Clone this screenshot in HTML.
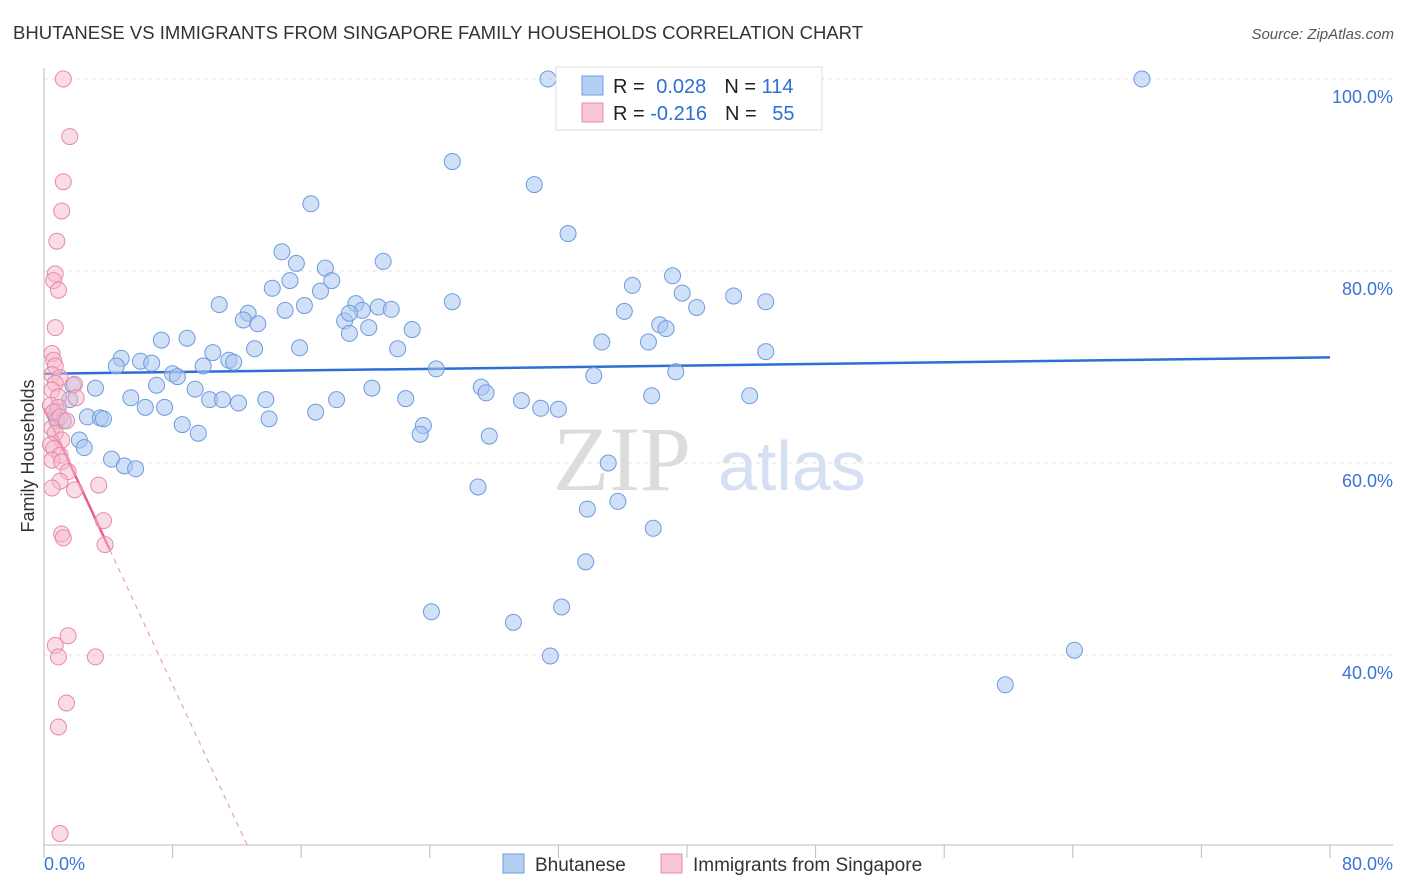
<!DOCTYPE html>
<html><head><meta charset="utf-8"><style>
body{margin:0;background:#fff;font-family:"Liberation Sans",sans-serif;}
</style></head><body>
<svg id="chart" width="1406" height="892" xmlns="http://www.w3.org/2000/svg" style="display:block;font-family:'Liberation Sans',sans-serif">
<text x="13" y="39" font-size="18" fill="#333" textLength="850" lengthAdjust="spacingAndGlyphs">BHUTANESE VS IMMIGRANTS FROM SINGAPORE FAMILY HOUSEHOLDS CORRELATION CHART</text>
<text x="1394" y="39" font-size="15" fill="#555" font-style="italic" text-anchor="end">Source: ZipAtlas.com</text>
<g>
<text x="553" y="490" font-size="92" fill="#dcdcdc" font-family="'Liberation Serif',serif">ZIP</text>
<text x="718" y="490" font-size="70" fill="#d5e0f2">atlas</text>
</g>
<g id="grid"></g>
<g id="axes"></g>
<g id="trend"></g>
<g id="pts"></g>
<text transform="translate(34,456) rotate(-90)" font-size="18" fill="#333" text-anchor="middle">Family Households</text>
<g>
<rect x="556" y="67" width="266" height="63" fill="#fff" stroke="#ddd"/>
<rect x="582" y="76" width="21" height="19" fill="#b5cff3" stroke="#6f9be0"/>
<rect x="582" y="103" width="21" height="19" fill="#f9c6d5" stroke="#e88aa8"/>
<text x="613" y="93" font-size="20" fill="#222">R = <tspan dx="6" fill="#2d6fd6">0.028</tspan><tspan dx="18">N = </tspan><tspan fill="#2d6fd6">114</tspan></text>
<text x="613" y="120" font-size="20" fill="#222">R = <tspan fill="#2d6fd6">-0.216</tspan><tspan dx="18">N = </tspan><tspan dx="10" fill="#2d6fd6">55</tspan></text>
</g>
<g>
<rect x="503" y="854" width="21" height="19" fill="#b5cff3" stroke="#6f9be0"/>
<text x="535" y="871" font-size="19" fill="#333">Bhutanese</text>
<rect x="661" y="854" width="21" height="19" fill="#f9c6d5" stroke="#e88aa8"/>
<text x="693" y="871" font-size="19" fill="#333">Immigrants from Singapore</text>
</g>
</svg>
<script>
const blueX=[31.35,43.1,68.3,25.4,30.5,16.6,32.6,14.8,21.1,15.7,17.5,17.9,15.3,14.2,17.2,36.6,39.1,39.7,42.9,44.9,10.9,16.2,15.0,12.7,19.4,20.8,21.6,19.8,25.4,36.1,40.6,18.7,19.0,12.4,13.3,20.2,19.0,22.9,38.3,38.7,8.9,7.3,34.7,37.6,13.1,15.9,22.0,10.5,44.9,4.8,6.0,4.5,6.7,11.5,11.8,9.9,24.4,34.2,39.3,8.0,8.3,7.0,3.2,1.8,9.4,20.4,27.2,27.5,10.3,5.4,11.1,12.1,13.8,18.2,22.5,29.7,30.9,32.0,37.8,43.9,1.6,6.3,7.5,0.8,16.9,2.7,3.5,3.7,14.0,0.8,1.2,8.6,23.6,9.6,23.4,27.7,2.2,2.5,4.2,5.0,5.7,35.1,27.0,35.7,33.8,37.9,33.7,32.2,24.1,29.2,64.1,31.5,59.8];
const blueY=[100,100,100,91.4,89.0,87.0,83.9,82.0,81.0,80.8,80.3,79.0,79.0,78.2,77.9,78.5,79.5,77.7,77.4,76.8,76.5,76.4,75.9,75.6,76.6,76.25,76.0,75.9,76.8,75.8,76.2,74.8,75.6,74.9,74.5,74.1,73.5,73.9,74.4,74.0,73.0,72.8,72.6,72.6,71.9,72.0,71.9,71.5,71.6,70.9,70.6,70.1,70.4,70.7,70.5,70.1,69.8,69.1,69.5,69.3,69.0,68.1,67.8,68.1,67.7,67.8,67.9,67.3,66.6,66.8,66.6,66.25,66.6,66.6,66.7,66.5,65.7,65.6,67.0,67.0,66.6,65.8,65.8,65.4,65.3,64.8,64.7,64.6,64.6,64.4,64.4,64.0,63.9,63.1,63.0,62.8,62.4,61.6,60.4,59.7,59.4,60.0,57.5,56.0,55.2,53.2,49.7,45.0,44.5,43.4,40.5,39.9,36.9];
const pinkX=[1.2,1.6,1.2,1.1,0.8,0.7,0.6,0.9,0.7,0.5,0.6,0.7,0.5,1.0,0.7,1.9,0.5,0.9,2.0,0.4,0.9,0.6,1.0,1.4,0.5,0.7,1.1,0.4,0.6,1.0,0.5,1.1,1.5,1.0,3.4,0.5,1.9,3.7,1.1,1.2,3.8,1.5,0.7,3.2,0.9,1.4,0.9,1.0];
const pinkY=[100,94.0,89.3,86.25,83.1,79.7,79.0,78.0,74.1,71.4,70.7,70.1,69.2,68.9,68.3,68.2,67.6,66.9,66.8,66.0,65.8,65.3,64.8,64.4,63.65,63.1,62.4,61.9,61.5,60.8,60.3,60.1,59.1,58.1,57.7,57.4,57.2,54.0,52.6,52.2,51.5,42.0,41.0,39.8,39.8,35.0,32.5,21.4];
const blueTrend=[69.3,71.0];
const pinkTrend=[65.7,-3.6];
const pinkSolidEnd=4.1;
const yTicks=[100,80,60,40];
const xTickLabels=["0.0%","80.0%"];

const NS="http://www.w3.org/2000/svg";
const X0=44,X1=1330,Y100=79,PXPER=9.6,BOTTOM=845;
const sx=v=>X0+(v/80)*(X1-X0);
const sy=v=>Y100+(100-v)*PXPER;
function mk(tag,attrs,parent){const e=document.createElementNS(NS,tag);for(const k in attrs)e.setAttribute(k,attrs[k]);parent.appendChild(e);return e;}
const grid=document.getElementById('grid'),axes=document.getElementById('axes'),trend=document.getElementById('trend'),pts=document.getElementById('pts');
yTicks.forEach(t=>{
  const l=mk('line',{x1:X0,x2:1393,y1:sy(t),y2:sy(t),stroke:'#e0e0e0','stroke-dasharray':'4,4'},grid);
  
  
  const tx=mk('text',{x:1393,y:sy(t)+24,'font-size':18,fill:'#3a74d6','text-anchor':'end'},axes);
  tx.textContent=t.toFixed(1)+'%';
  
  
});
const va=mk('line',{x1:X0,x2:X0,y1:68,y2:BOTTOM,stroke:'#bbb'},axes);


const ha=mk('line',{x1:X0,x2:1393,y1:BOTTOM,y2:BOTTOM,stroke:'#bbb'},axes);


for(let i=0;i<=10;i++){
  const v=i*8;
  const t=mk('line',{x1:sx(v),x2:sx(v),y1:BOTTOM,y2:BOTTOM+13,stroke:'#bbb'},axes);
  
  
}
const xl0=mk('text',{x:44,y:870,'font-size':18,fill:'#3a74d6'},axes);xl0.textContent=xTickLabels[0];


const xl1=mk('text',{x:1393,y:870,'font-size':18,fill:'#3a74d6','text-anchor':'end'},axes);xl1.textContent=xTickLabels[1];



blueX.forEach((x,i)=>{
  const c=mk('circle',{cx:sx(x),cy:sy(blueY[i]),r:8,fill:'#a9c6ef','fill-opacity':0.55,stroke:'#6f9be0','stroke-width':1},pts);
  
  
});
pinkX.forEach((x,i)=>{
  const c=mk('circle',{cx:sx(x),cy:sy(pinkY[i]),r:8,fill:'#f5b9cb','fill-opacity':0.5,stroke:'#e88aa8','stroke-width':1},pts);
  
  
});
const bl=mk('line',{x1:sx(0),y1:sy(blueTrend[0]),x2:sx(80),y2:sy(blueTrend[1]),stroke:'#2d6fd6','stroke-width':2.5},trend);


const pf=x=>pinkTrend[0]+pinkTrend[1]*x;
const ps=mk('line',{x1:sx(0),y1:sy(pf(0)),x2:sx(pinkSolidEnd),y2:sy(pf(pinkSolidEnd)),stroke:'#e8608a','stroke-width':2.5},trend);


const xEnd=(20.2-pinkTrend[0])/pinkTrend[1];
const pd=mk('line',{x1:sx(pinkSolidEnd),y1:sy(pf(pinkSolidEnd)),x2:sx(xEnd),y2:sy(pf(xEnd)),stroke:'#e8a0b6','stroke-width':1.2,'stroke-dasharray':'5,5'},trend);


</script>
</body></html>
